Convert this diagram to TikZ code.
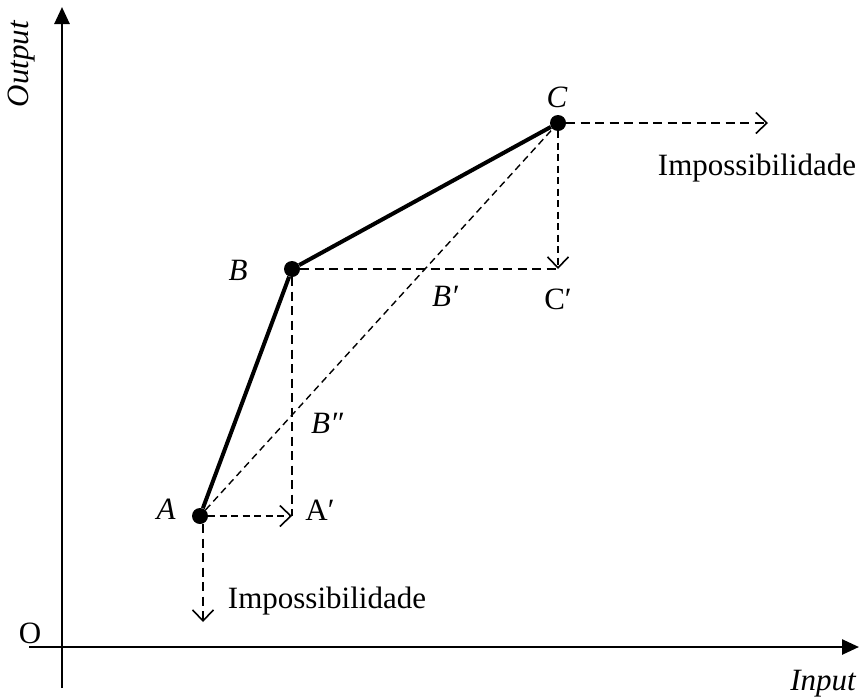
\documentclass[tikz,border=0pt]{standalone}
\usepackage{fontspec}
\setmainfont{Liberation Serif}
\usetikzlibrary{arrows.meta, positioning}

\begin{document}
\begin{tikzpicture}[x=1pt, y=-1pt, font=\fontsize{31}{36}\selectfont,
    dot/.style={circle, fill, inner sep=0pt, minimum size=16pt},
    axis/.style={line width=2.6pt, -{Triangle[length=17pt,width=15pt]}},
    frontier/.style={line width=4pt},
    guide/.style={line width=2pt, dash pattern=on 9pt off 5.5pt},
    fine/.style={line width=1.4pt, dash pattern=on 7pt off 4.5pt},
    barb/.style={-{Straight Barb[length=11pt,width=21pt,line width=1.6pt]}}]
      \useasboundingbox (0,0) rectangle (861,699);
      % axes
      \coordinate (O) at (62,647);
      \coordinate (xs) at (29,647);
      \coordinate (xe) at (859,647);
      \coordinate (ys) at (62,688);
      \coordinate (ye) at (62,7);
      \draw[axis] (xs) -- (xe);
      \draw[axis] (ys) -- (ye);
      \node (o) at (30,633) {O};
      \node[rotate=90] (out) at (22,64) {\itshape Output};
      \node (in) at (823,684) {\itshape Input};
      % points of the frontier
      \node[dot] (A) at (200,516) {};
      \node[dot] (B) at (292,269) {};
      \node[dot] (C) at (558,123) {};
      \coordinate (Ap) at (292,516);
      \coordinate (Cp) at (558,269);
      \coordinate (Cr) at (768,123);
      \coordinate (Ad) at (203,622);
      \draw[frontier] (A) -- (B) -- (C);
      \draw[fine] (A) -- (C);
      \draw[guide] (B) -- (Cp);
      \draw[guide] (B) -- (Ap);
      \draw[fine, barb] (A) -- (Ap);
      \draw[fine, barb] (C) -- (Cp);
      \draw[guide, barb] (C) -- (Cr);
      \draw[guide, barb] (A.south -| Ad) -- (Ad);
      % labels
      \node (lA) at (166,509) {\itshape A};
      \node (lB) at (238,270) {\itshape B};
      \node (lC) at (557,97) {\itshape C};
      \node (lAp) at (320,510) {A′};
      \node (lBp) at (445,296) {\itshape B′};
      \node (lCp) at (558,299) {C′};
      \node (lBpp) at (327,423) {\itshape B″};
      \node (imp1) at (757,168) {Impossibilidade};
      \node (imp2) at (327,601) {Impossibilidade};
    \end{tikzpicture}
\end{document}
